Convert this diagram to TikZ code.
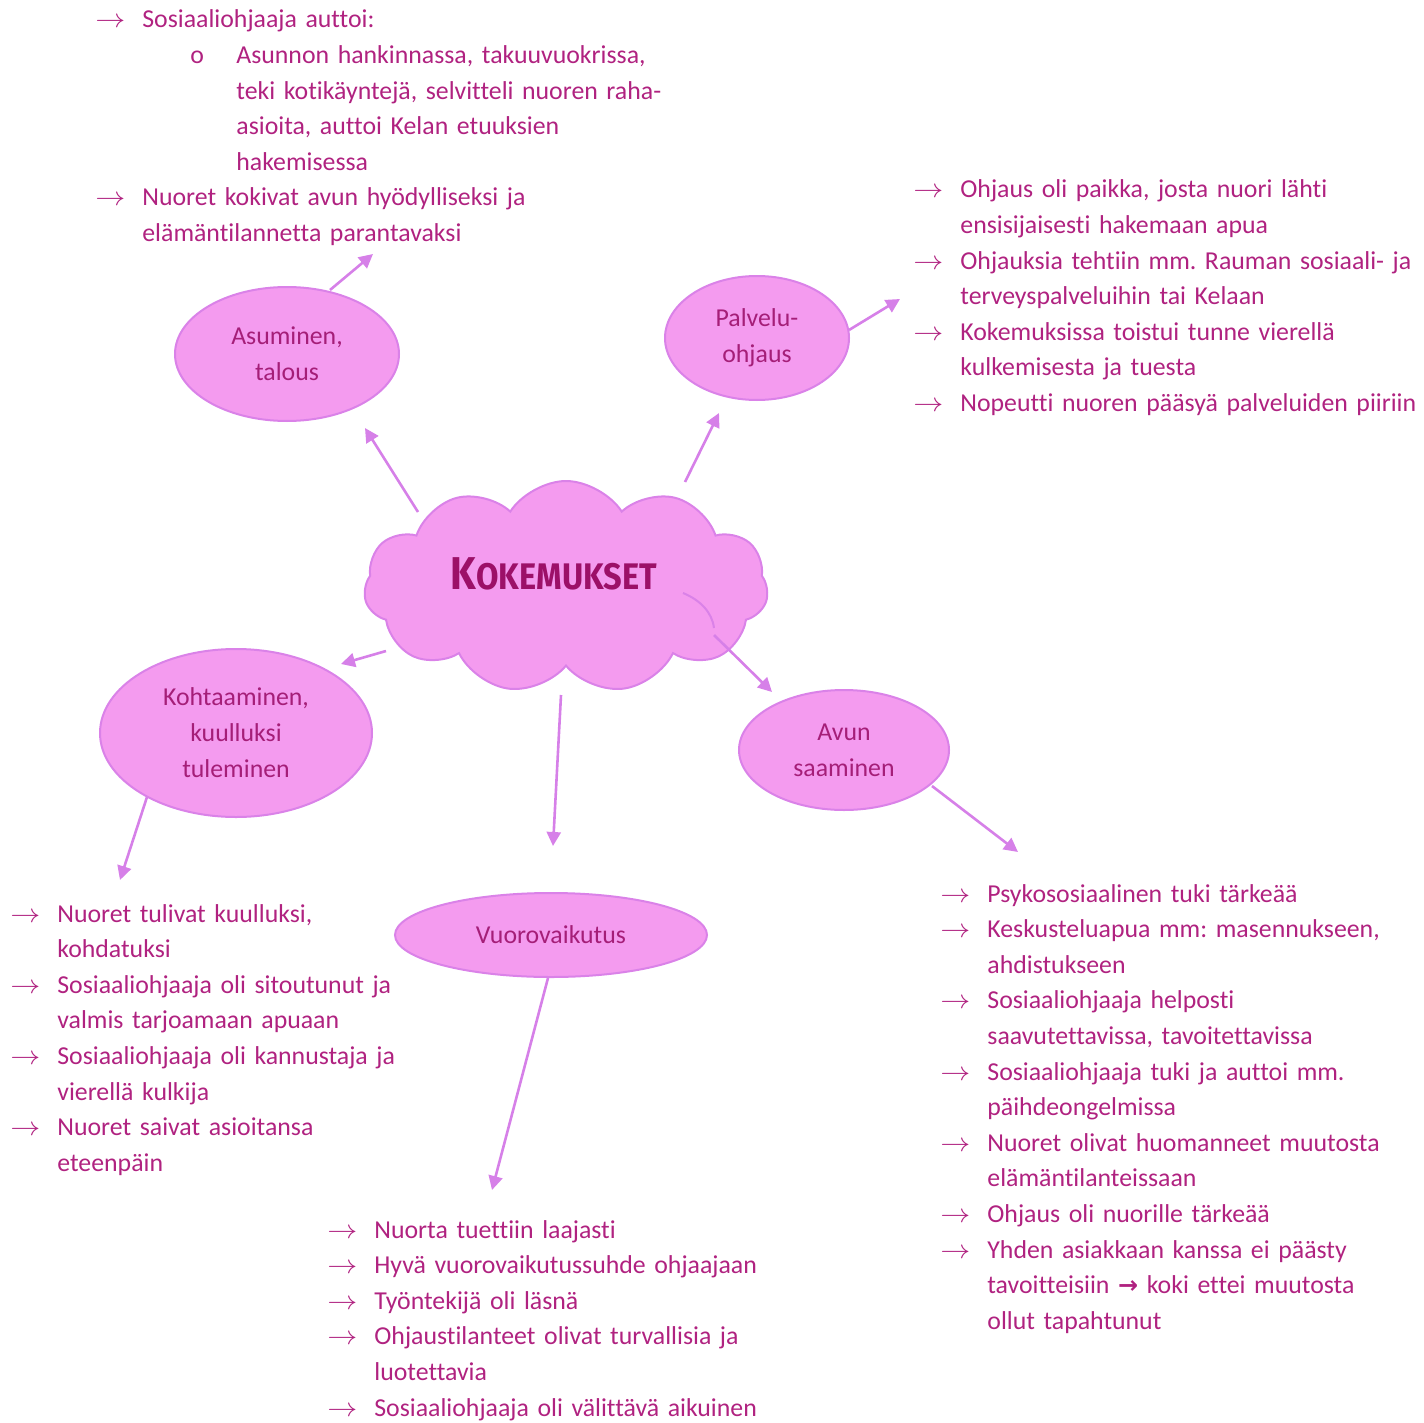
\documentclass[tikz,border=0pt]{standalone}
\usepackage{fontspec}
\setmainfont[Ligatures=NoCommon]{Carlito}
\newfontfamily\dejavu{DejaVu Sans}
\newfontfamily\titlefont{Fira Sans}
\usetikzlibrary{shapes.symbols,shapes.geometric,arrows.meta}
\definecolor{txt}{RGB}{176,34,128}
\definecolor{etxt}{RGB}{165,30,120}
\definecolor{ttl}{RGB}{156,16,104}
\definecolor{ellf}{RGB}{244,155,239}
\definecolor{ellb}{RGB}{218,130,232}
\definecolor{conc}{RGB}{214,128,232}
\newcommand\ar{\makebox[23.5pt][l]{\scalebox{1.25}[1.1]{$\rightarrow$}}}
\newcommand\ind{\hspace*{23.5pt}}
\tikzset{
  blk/.style={anchor=base west, inner sep=0pt, text width=320pt, align=left,
    font=\fontsize{12.9}{17.8}\selectfont\frenchspacing, text=txt},
  ell/.style={ellipse, draw=ellb, fill=ellf, line width=1pt, text=etxt,
    align=center, font=\fontsize{12.9}{18}\selectfont, inner sep=0pt},
  conn/.style={draw=conc, line width=1.3pt, -{Triangle[length=7pt,width=7pt]}},
  inarc/.style={draw=ellb, line width=1pt},
}
\begin{document}
\begin{tikzpicture}[x=0.5pt,y=-0.5pt]
\useasboundingbox (0,0) rectangle (1423,1423);

% cloud
\node[cloud, cloud puffs=11, cloud puff arc=115, aspect=1.9, draw=ellb, fill=ellf,
  line width=1pt, minimum width=202pt, minimum height=106pt, inner sep=0pt] (cloud) at (566,587) {};
\draw[inarc] (683,593) .. controls (700,600) and (712,612) .. (714,628);

\node[text=ttl, inner sep=0pt] (title) at (554,574)
  {\titlefont\bfseries\scalebox{0.88}[1]{\fontsize{23}{23}\selectfont K\fontsize{18.5}{18.5}\selectfont OKEMUKSET}};

% ellipses
\node[ell, minimum width=112pt, minimum height=67pt] (asum) at (287,354) {Asuminen,\\talous};
\node[ell, minimum width=92pt, minimum height=62pt] (palv) at (757,338) {Palvelu-\\ohjaus};
\node[ell, minimum width=136pt, minimum height=84pt] (koht) at (236,733) {Kohtaaminen,\\kuulluksi\\tuleminen};
\node[ell, minimum width=105pt, minimum height=60pt] (avun) at (844,750) {Avun\\saaminen};
\node[ell, minimum width=156pt, minimum height=42pt] (vuor) at (551,935) {Vuorovaikutus};

% connector end points
\coordinate (c1s) at (418,512); \coordinate (c1e) at (365,428);
\coordinate (c2s) at (330,290); \coordinate (c2e) at (373,254);
\coordinate (c3s) at (685,482); \coordinate (c3e) at (719,413);
\coordinate (c4s) at (849,330); \coordinate (c4e) at (900,299);
\coordinate (c5s) at (386,651); \coordinate (c5e) at (341,664);
\coordinate (c6s) at (147,797); \coordinate (c6e) at (120,880);
\coordinate (c7s) at (561,695); \coordinate (c7e) at (553,846);
\coordinate (c8s) at (548,978); \coordinate (c8e) at (492,1190);
\coordinate (c9s) at (714,635); \coordinate (c9e) at (772,692);
\coordinate (c10s) at (932,786); \coordinate (c10e) at (1018,852);
\foreach \i in {1,...,10} \draw[conn] (c\i s) -- (c\i e);

% text blocks
\node[blk] (tl) at (95,28) {\ar Sosiaaliohjaaja auttoi:\\
\hspace*{47.5pt}\makebox[23pt][l]{o}Asunnon hankinnassa, takuuvuokrissa,\\
\hspace*{70.5pt}teki kotikäyntejä, selvitteli nuoren raha-\\
\hspace*{70.5pt}asioita, auttoi Kelan etuuksien\\
\hspace*{70.5pt}hakemisessa\\
\ar Nuoret kokivat avun hyödylliseksi ja\\
\ind elämäntilannetta parantavaksi};

\node[blk] (tr) at (913,198) {\ar Ohjaus oli paikka, josta nuori lähti\\
\ind ensisijaisesti hakemaan apua\\
\ar Ohjauksia tehtiin mm. Rauman sosiaali- ja\\
\ind terveyspalveluihin tai Kelaan\\
\ar Kokemuksissa toistui tunne vierellä\\
\ind kulkemisesta ja tuesta\\
\ar Nopeutti nuoren pääsyä palveluiden piiriin};

\node[blk] (bl) at (10,922) {\ar Nuoret tulivat kuulluksi,\\
\ind kohdatuksi\\
\ar Sosiaaliohjaaja oli sitoutunut ja\\
\ind valmis tarjoamaan apuaan\\
\ar Sosiaaliohjaaja oli kannustaja ja\\
\ind vierellä kulkija\\
\ar Nuoret saivat asioitansa\\
\ind eteenpäin};

\node[blk] (bm) at (327,1238) {\ar Nuorta tuettiin laajasti\\
\ar Hyvä vuorovaikutussuhde ohjaajaan\\
\ar Työntekijä oli läsnä\\
\ar Ohjaustilanteet olivat turvallisia ja\\
\ind luotettavia\\
\ar Sosiaaliohjaaja oli välittävä aikuinen};

\node[blk] (br) at (940,902) {\ar Psykososiaalinen tuki tärkeää\\
\ar Keskusteluapua mm: masennukseen,\\
\ind ahdistukseen\\
\ar Sosiaaliohjaaja helposti\\
\ind saavutettavissa, tavoitettavissa\\
\ar Sosiaaliohjaaja tuki ja auttoi mm.\\
\ind päihdeongelmissa\\
\ar Nuoret olivat huomanneet muutosta\\
\ind elämäntilanteissaan\\
\ar Ohjaus oli nuorille tärkeää\\
\ar Yhden asiakkaan kanssa ei päästy\\
\ind tavoitteisiin {\dejavu\bfseries\fontsize{12}{12}\selectfont →} koki ettei muutosta\\
\ind ollut tapahtunut};
\end{tikzpicture}
\end{document}
